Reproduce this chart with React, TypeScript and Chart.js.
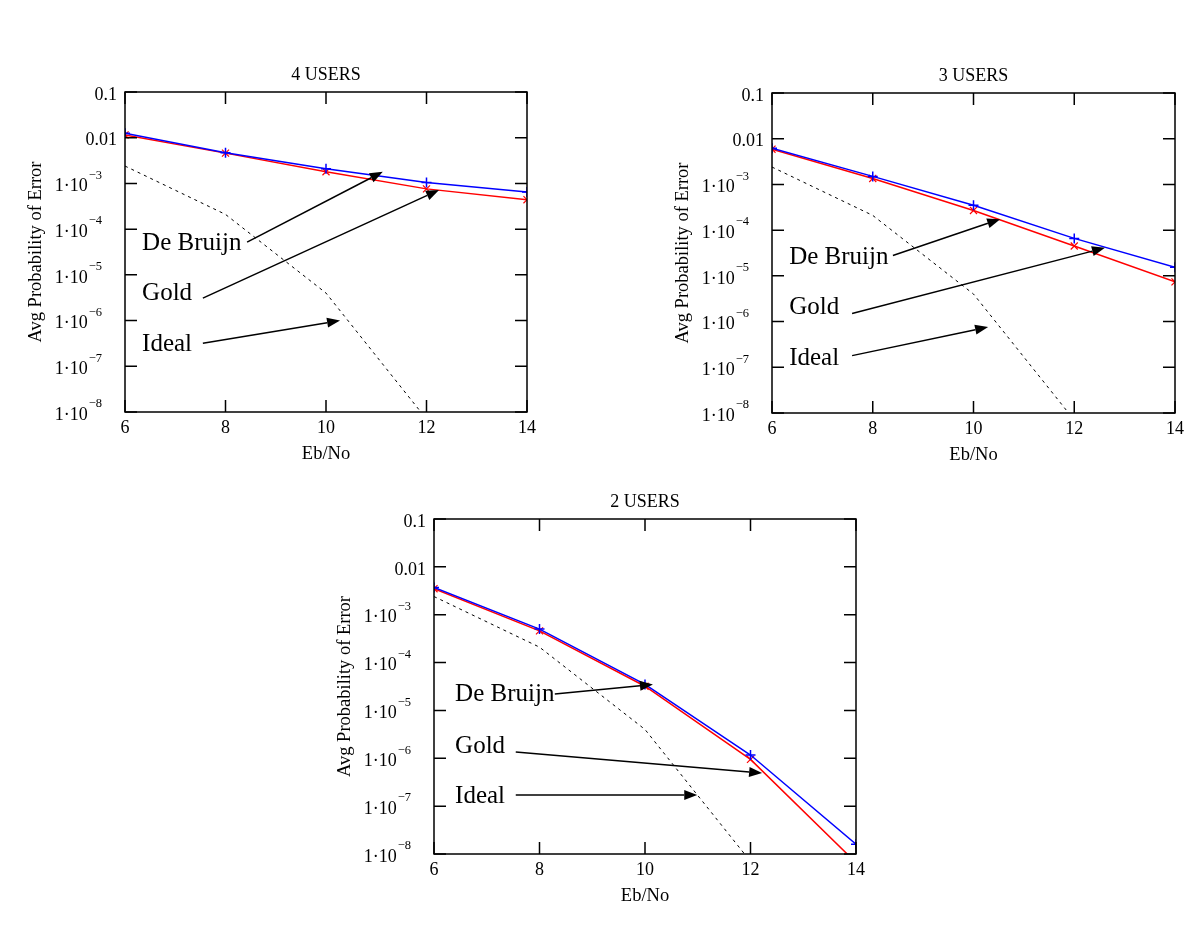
import React, { useEffect, useRef } from "react";
import { Chart, registerables } from "chart.js";

Chart.register(...registerables);

// ---- data ----
const ebNo = [6, 8, 10, 12, 14];
const xTicks = [6, 8, 10, 12, 14];
const yTickValues = [0.1, 0.01, 1e-3, 1e-4, 1e-5, 1e-6, 1e-7, 1e-8];
const yTickBase = ["0.1", "0.01", "1·10", "1·10", "1·10", "1·10", "1·10", "1·10"];
const yTickExp = ["", "", "−3", "−4", "−5", "−6", "−7", "−8"];

const deBruijn4 = [0.0125, 0.0047, 0.0021, 0.00105, 0.00065];
const gold4 = [0.0115, 0.0046, 0.0018, 0.00076, 0.00044];
const deBruijn3 = [0.0062, 0.0015, 0.00035, 0.000066, 0.0000155];
const gold3 = [0.0059, 0.00135, 0.00027, 0.000045, 0.0000074];
const deBruijn2 = [0.0037, 0.0005, 0.000035, 0.00000117, 1.6e-8];
const gold2 = [0.0035, 0.00046, 0.000032, 0.00000095, 6.6e-9];
const ideal = [0.0024, 0.00021, 0.000004, 7e-9, null];

const seriesNames = ["De Bruijn", "Gold", "Ideal"];

// annotation anchors in data units: [x, y]
const ann4Text = [[6.34, 5.2e-5], [6.34, 4.2e-6], [6.34, 3.2e-7]];
const ann4From = [[8.43, 5.2e-5], [7.55, 3.1e-6], [7.55, 3.2e-7]];
const ann4Tip = [[11.13, 1.8e-3], [12.25, 7.2e-4], [10.28, 1.0e-6]];

const ann3Text = [[6.34, 2.6e-5], [6.34, 2.1e-6], [6.34, 1.66e-7]];
const ann3From = [[8.4, 2.8e-5], [7.59, 1.5e-6], [7.59, 1.8e-7]];
const ann3Tip = [[10.53, 1.74e-4], [12.61, 4.1e-5], [10.29, 7.6e-7]];

const ann2Text = [[6.4, 2.3e-5], [6.4, 1.9e-6], [6.4, 1.7e-7]];
const ann2From = [[8.29, 2.2e-5], [7.55, 1.35e-6], [7.55, 1.7e-7]];
const ann2Tip = [[10.15, 3.5e-5], [12.22, 4.9e-7], [10.99, 1.7e-7]];

const FONT = "'Liberation Serif', 'Times New Roman', serif";

type Pt = number[];

interface PanelProps {
  title: string;
  left: number;
  top: number;
  width: number;
  height: number;
  pad: { left: number; top: number; right: number; bottom: number };
  deBruijn: number[];
  gold: number[];
  annText: Pt[];
  annFrom: Pt[];
  annTip: Pt[];
}

function Panel(props: PanelProps) {
  const ref = useRef<HTMLCanvasElement | null>(null);

  useEffect(() => {
    const canvas = ref.current;
    if (!canvas) return;
    const { title, deBruijn, gold, annText, annFrom, annTip } = props;

    const deco = {
      id: "deco",
      afterDraw(chart: any) {
        const ctx: CanvasRenderingContext2D = chart.ctx;
        const { left: L, right: R, top: T, bottom: B } = chart.chartArea;
        const xs = chart.scales.x;
        const ys = chart.scales.y;
        ctx.save();
        ctx.strokeStyle = "#000";
        ctx.fillStyle = "#000";
        ctx.lineWidth = 1.5;
        ctx.strokeRect(L, T, R - L, B - T);

        // inward tick marks on all four sides
        ctx.beginPath();
        for (const v of xTicks) {
          const px = xs.getPixelForValue(v);
          ctx.moveTo(px, T);
          ctx.lineTo(px, T + 12);
          ctx.moveTo(px, B);
          ctx.lineTo(px, B - 12);
        }
        for (const v of yTickValues) {
          const py = ys.getPixelForValue(v);
          ctx.moveTo(L, py);
          ctx.lineTo(L + 12, py);
          ctx.moveTo(R, py);
          ctx.lineTo(R - 12, py);
        }
        ctx.stroke();

        // y tick labels
        ctx.textBaseline = "middle";
        yTickValues.forEach((v, i) => {
          const py = ys.getPixelForValue(v);
          const exp = yTickExp[i];
          if (!exp) {
            ctx.font = `18px ${FONT}`;
            ctx.textAlign = "right";
            ctx.fillText(yTickBase[i], L - 8, py + 3);
          } else {
            ctx.font = `12.5px ${FONT}`;
            ctx.textAlign = "right";
            const ew = ctx.measureText(exp).width;
            ctx.fillText(exp, L - 23, py - 8);
            ctx.font = `18px ${FONT}`;
            ctx.fillText(yTickBase[i], L - 23 - ew - 1, py + 3);
          }
        });

        // x tick labels
        ctx.font = `18px ${FONT}`;
        ctx.textAlign = "center";
        for (const v of xTicks) {
          ctx.fillText(String(v), xs.getPixelForValue(v), B + 16);
        }

        // axis titles and chart title
        ctx.font = `18.5px ${FONT}`;
        ctx.fillText("Eb/No", (L + R) / 2, B + 42);
        ctx.font = `18px ${FONT}`;
        ctx.fillText(title, (L + R) / 2, T - 17);
        ctx.save();
        ctx.font = `18.5px ${FONT}`;
        ctx.translate(L - 89, (T + B) / 2);
        ctx.rotate(-Math.PI / 2);
        ctx.fillText("Avg Probability of Error", 0, 0);
        ctx.restore();

        // annotations with arrows
        ctx.font = `25px ${FONT}`;
        ctx.textAlign = "left";
        seriesNames.forEach((name, i) => {
          const tx = xs.getPixelForValue(annText[i][0]);
          const ty = ys.getPixelForValue(annText[i][1]);
          ctx.fillText(name, tx, ty + 1);
          const fx = xs.getPixelForValue(annFrom[i][0]);
          const fy = ys.getPixelForValue(annFrom[i][1]);
          const px = xs.getPixelForValue(annTip[i][0]);
          const py = ys.getPixelForValue(annTip[i][1]);
          const ang = Math.atan2(py - fy, px - fx);
          const hl = 13;
          const hw = 5;
          const bx = px - hl * Math.cos(ang);
          const by = py - hl * Math.sin(ang);
          ctx.lineWidth = 1.5;
          ctx.beginPath();
          ctx.moveTo(fx, fy);
          ctx.lineTo(bx, by);
          ctx.stroke();
          ctx.beginPath();
          ctx.moveTo(px, py);
          ctx.lineTo(bx + hw * Math.sin(ang), by - hw * Math.cos(ang));
          ctx.lineTo(bx - hw * Math.sin(ang), by + hw * Math.cos(ang));
          ctx.closePath();
          ctx.fill();
        });
        ctx.restore();
      },
    };

    const toPts = (arr: (number | null)[]) => ebNo.map((x, i) => ({ x, y: arr[i] }));

    const chart = new Chart(canvas, {
      type: "line",
      data: {
        datasets: [
          {
            label: "De Bruijn",
            data: toPts(deBruijn) as any,
            borderColor: "#0000ff",
            backgroundColor: "#0000ff",
            borderWidth: 1.5,
            pointStyle: "cross",
            pointRadius: 5,
            pointBorderWidth: 1.5,
            pointBorderColor: "#0000ff",
            tension: 0,
          },
          {
            label: "Gold",
            data: toPts(gold) as any,
            borderColor: "#ff0000",
            backgroundColor: "#ff0000",
            borderWidth: 1.5,
            pointStyle: "crossRot",
            pointRadius: 5,
            pointBorderWidth: 1.2,
            pointBorderColor: "#ff0000",
            tension: 0,
          },
          {
            label: "Ideal",
            data: toPts(ideal) as any,
            borderColor: "#000000",
            borderWidth: 1,
            borderDash: [3, 4],
            pointRadius: 0,
            tension: 0,
            spanGaps: false,
          },
        ],
      },
      options: {
        responsive: false,
        maintainAspectRatio: false,
        animation: false,
        devicePixelRatio: 1,
        layout: { padding: props.pad },
        plugins: { legend: { display: false }, tooltip: { enabled: false }, title: { display: false } },
        scales: {
          x: { type: "linear", min: 6, max: 14, display: false },
          y: { type: "logarithmic", min: 1e-8, max: 0.1, display: false },
        },
      },
      plugins: [deco],
    } as any);

    return () => chart.destroy();
  }, []);

  return (
    <canvas
      ref={ref}
      width={props.width}
      height={props.height}
      style={{ position: "absolute", left: props.left, top: props.top, width: props.width, height: props.height }}
    />
  );
}

export default function App() {
  return (
    <div style={{ position: "absolute", left: 0, top: 0, width: 1200, height: 933, background: "#fff" }}>
      <Panel
        title="4 USERS"
        left={0}
        top={40}
        width={580}
        height={440}
        pad={{ left: 125, top: 52, right: 53, bottom: 68 }}
        deBruijn={deBruijn4}
        gold={gold4}
        annText={ann4Text}
        annFrom={ann4From}
        annTip={ann4Tip}
      />
      <Panel
        title="3 USERS"
        left={620}
        top={40}
        width={580}
        height={440}
        pad={{ left: 152, top: 53, right: 25, bottom: 67 }}
        deBruijn={deBruijn3}
        gold={gold3}
        annText={ann3Text}
        annFrom={ann3From}
        annTip={ann3Tip}
      />
      <Panel
        title="2 USERS"
        left={300}
        top={470}
        width={600}
        height={463}
        pad={{ left: 134, top: 49, right: 44, bottom: 79 }}
        deBruijn={deBruijn2}
        gold={gold2}
        annText={ann2Text}
        annFrom={ann2From}
        annTip={ann2Tip}
      />
    </div>
  );
}
